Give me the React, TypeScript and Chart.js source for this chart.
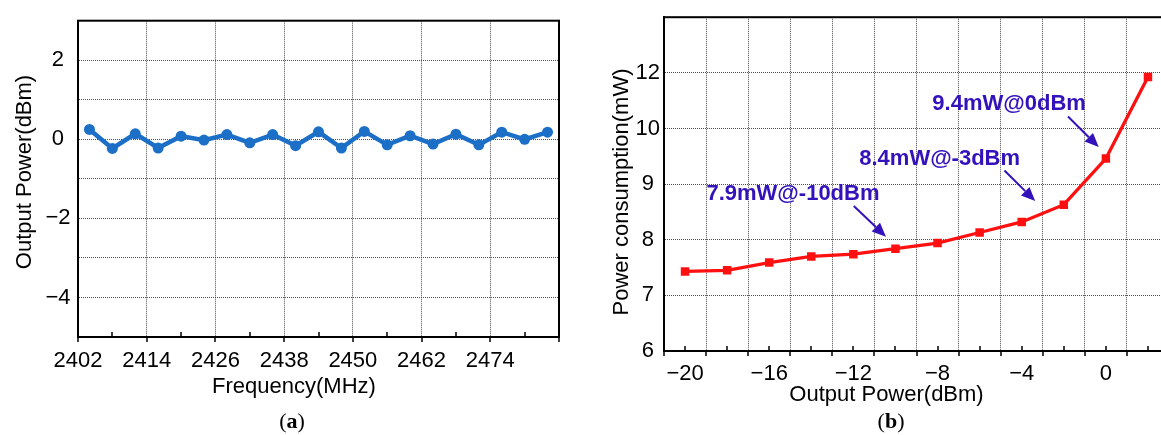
import React, { useEffect, useRef } from 'react';
import { Chart, registerables } from 'chart.js';

Chart.register(...registerables);

// ---------------- panel (a): output power vs frequency ----------------
const FREQ_MHZ = [2404, 2408, 2412, 2416, 2420, 2424, 2428, 2432, 2436, 2440, 2444, 2448, 2452, 2456, 2460, 2464, 2468, 2472, 2476, 2480, 2484];
const OUTPUT_POWER_DBM = [0.25, -0.23, 0.14, -0.22, 0.08, -0.02, 0.12, -0.09, 0.12, -0.16, 0.19, -0.22, 0.2, -0.14, 0.09, -0.12, 0.13, -0.14, 0.18, 0.0, 0.18];
const FREQ_TICK_LABELS = ['2402', '2414', '2426', '2438', '2450', '2462', '2474'];
const POWER_TICK_LABELS_A = ['2', '0', '\u22122', '\u22124'];

// ---------------- panel (b): power consumption vs output power ----------------
const OUT_POWER_B = [-20, -18, -16, -14, -12, -10, -8, -6, -4, -2, 0, 2];
const CONSUMPTION_MW = [7.43, 7.45, 7.59, 7.7, 7.74, 7.84, 7.94, 8.13, 8.32, 8.63, 9.46, 11.85];
const DBM_TICK_LABELS = ['\u221220', '\u221216', '\u221212', '\u22128', '\u22124', '0'];
const MW_TICK_LABELS = ['6', '7', '8', '9', '10', '12'];

const NOTE_TEXTS = ['9.4mW@0dBm', '8.4mW@-3dBm', '7.9mW@-10dBm'];
const NOTE_X = [-4.6, -7.9, -14.87];
const NOTE_Y = [10.94, 9.486, 8.853];
const ARROW_X0 = [-1.8, -4.82, -11.98];
const ARROW_Y0 = [10.43, 9.245, 8.607];
const ARROW_X1 = [-0.34, -3.36, -10.45];
const ARROW_Y1 = [9.666, 8.696, 8.054];

const FONT = "'Liberation Sans', Arial, Helvetica, sans-serif";
const GRID = 'rgba(70,70,70,0.95)';
const BLUE = '#1c6fc6';
const RED = '#ff1010';
const NOTE_COLOR = '#3311bb';

// y axis of (b) is compressed above 10 mW (10 -> 12 spans one grid cell)
const brk = (v: number) => (v <= 10 ? v : 10 + (v - 10) / 2);
const unbrk = (t: number) => (t <= 10 ? t : 10 + (t - 10) * 2);
const fmt = (v: number) => (v < 0 ? '\u2212' + Math.abs(v) : String(v));

const isMajorA = (v: number) => Math.abs(v - 2402) % 12 === 0;
const isMajorB = (v: number) => Math.abs(v) % 2 === 1;

function frameTicksPlugin(isMajor: (v: number) => boolean) {
  return {
    id: 'frameTicks',
    afterDraw(chart: any) {
      const { ctx, chartArea } = chart;
      const { top, bottom, left, right } = chartArea;
      const x = chart.scales.x;
      ctx.save();
      ctx.setLineDash([]);
      ctx.strokeStyle = '#000';
      ctx.lineWidth = 2;
      ctx.strokeRect(left, top, right - left, bottom - top);
      ctx.lineWidth = 1.5;
      ctx.beginPath();
      for (const t of x.ticks) {
        const px = Math.round(x.getPixelForValue(t.value));
        if (isMajor(t.value)) {
          ctx.moveTo(px, bottom);
          ctx.lineTo(px, bottom + 5);
        } else {
          ctx.moveTo(px, bottom);
          ctx.lineTo(px, bottom - 5);
        }
      }
      ctx.stroke();
      ctx.restore();
    },
  };
}

type TitleItem = { text: string; x: number; y: number; rot: number };
function titlesPlugin(items: TitleItem[]) {
  return {
    id: 'axisTitles',
    afterDraw(chart: any) {
      const ctx = chart.ctx;
      ctx.save();
      ctx.fillStyle = '#000';
      ctx.font = `22px ${FONT}`;
      ctx.textAlign = 'center';
      ctx.textBaseline = 'middle';
      for (const it of items) {
        ctx.save();
        ctx.translate(it.x, it.y);
        ctx.rotate(it.rot);
        ctx.fillText(it.text, 0, 0);
        ctx.restore();
      }
      ctx.restore();
    },
  };
}

const notesPlugin = {
  id: 'notes',
  afterDatasetsDraw(chart: any) {
    const { ctx } = chart;
    const xs = chart.scales.x;
    const ys = chart.scales.y;
    ctx.save();
    ctx.fillStyle = NOTE_COLOR;
    ctx.strokeStyle = NOTE_COLOR;
    ctx.font = `bold 22px ${FONT}`;
    ctx.textAlign = 'center';
    ctx.textBaseline = 'alphabetic';
    NOTE_TEXTS.forEach((txt, i) => {
      const tx = xs.getPixelForValue(NOTE_X[i]);
      const ty = ys.getPixelForValue(brk(NOTE_Y[i]));
      ctx.fillText(txt, tx, ty + 0.358 * 22);
      const x0 = xs.getPixelForValue(ARROW_X0[i]);
      const y0 = ys.getPixelForValue(brk(ARROW_Y0[i]));
      const x1 = xs.getPixelForValue(ARROW_X1[i]);
      const y1 = ys.getPixelForValue(brk(ARROW_Y1[i]));
      const ang = Math.atan2(y1 - y0, x1 - x0);
      const hl = 14;
      const hw = 6;
      const bx = x1 - hl * Math.cos(ang);
      const by = y1 - hl * Math.sin(ang);
      ctx.lineWidth = 2;
      ctx.beginPath();
      ctx.moveTo(x0, y0);
      ctx.lineTo(bx, by);
      ctx.stroke();
      ctx.beginPath();
      ctx.moveTo(x1, y1);
      ctx.lineTo(bx - hw * Math.sin(ang), by + hw * Math.cos(ang));
      ctx.lineTo(bx + hw * Math.sin(ang), by - hw * Math.cos(ang));
      ctx.closePath();
      ctx.fill();
    });
    ctx.restore();
  },
};

function ChartA() {
  const ref = useRef<HTMLCanvasElement>(null);
  useEffect(() => {
    const canvas = ref.current!;
    const H = 435;
    const chart = new Chart(canvas, {
      type: 'line',
      data: {
        datasets: [
          {
            data: FREQ_MHZ.map((f, i) => ({ x: f, y: OUTPUT_POWER_DBM[i] })),
            borderColor: BLUE,
            backgroundColor: BLUE,
            borderWidth: 4.5,
            pointRadius: 5.5,
            pointHoverRadius: 5.5,
            pointBorderWidth: 0,
            pointBackgroundColor: BLUE,
            tension: 0,
          },
        ],
      },
      options: {
        responsive: false,
        animation: false,
        events: [],
        layout: { padding: { top: 17, right: 21, left: 0, bottom: 0 } },
        plugins: { legend: { display: false }, tooltip: { enabled: false } },
        scales: {
          x: {
            type: 'linear',
            min: 2402,
            max: 2486,
            afterFit: (s: any) => {
              s.height = H - 337;
            },
            ticks: {
              stepSize: 6,
              autoSkip: false,
              maxRotation: 0,
              padding: 11,
              color: '#000',
              font: { family: FONT, size: 22 },
              callback: (v: any) => (FREQ_TICK_LABELS.includes(String(v)) ? String(v) : ''),
            },
            grid: {
              drawTicks: false,
              lineWidth: 1,
              color: (c: any) => (isMajorA(c.tick.value) ? GRID : 'rgba(0,0,0,0)'),
            },
            border: { display: true, color: '#000', width: 2, dash: [1, 1] },
          },
          y: {
            type: 'linear',
            min: -5,
            max: 3,
            afterFit: (s: any) => {
              s.width = 78;
            },
            ticks: {
              stepSize: 1,
              autoSkip: false,
              padding: 7.5,
              crossAlign: 'center',
              color: '#000',
              font: { family: FONT, size: 22 },
              callback: (v: any) => (POWER_TICK_LABELS_A.includes(fmt(v)) ? fmt(v) : ''),
            },
            grid: { drawTicks: false, lineWidth: 1, color: GRID },
            border: { display: true, color: '#000', width: 2, dash: [1, 1] },
          },
        },
      },
      plugins: [
        frameTicksPlugin(isMajorA),
        titlesPlugin([
          { text: 'Frequency(MHz)', x: 294, y: 387, rot: 0 },
          { text: 'Output Power(dBm)', x: 25, y: 172, rot: -Math.PI / 2 },
        ]),
      ],
    } as any);
    return () => chart.destroy();
  }, []);
  return (
    <canvas
      ref={ref}
      width={580}
      height={435}
      style={{ position: 'absolute', left: 0, top: 0, width: 580, height: 435, display: 'block' }}
    />
  );
}

function ChartB() {
  const ref = useRef<HTMLCanvasElement>(null);
  useEffect(() => {
    const canvas = ref.current!;
    const H = 435;
    const chart = new Chart(canvas, {
      type: 'line',
      data: {
        datasets: [
          {
            data: OUT_POWER_B.map((x, i) => ({ x, y: brk(CONSUMPTION_MW[i]) })),
            borderColor: RED,
            backgroundColor: RED,
            borderWidth: 3.3,
            pointStyle: 'rect',
            pointRadius: 6,
            pointHoverRadius: 6,
            pointBorderWidth: 0,
            pointBackgroundColor: RED,
            tension: 0,
          },
        ],
      },
      options: {
        responsive: false,
        animation: false,
        events: [],
        layout: { padding: { top: 13, right: 11, left: 0, bottom: 0 } },
        plugins: { legend: { display: false }, tooltip: { enabled: false } },
        scales: {
          x: {
            type: 'linear',
            min: -21,
            max: 3,
            afterFit: (s: any) => {
              s.height = H - 351;
            },
            ticks: {
              stepSize: 1,
              autoSkip: false,
              maxRotation: 0,
              padding: 10,
              color: '#000',
              font: { family: FONT, size: 22 },
              callback: (v: any) => (DBM_TICK_LABELS.includes(fmt(v)) ? fmt(v) : ''),
            },
            grid: {
              drawTicks: false,
              lineWidth: 1,
              color: (c: any) => (isMajorB(c.tick.value) ? GRID : 'rgba(0,0,0,0)'),
            },
            border: { display: true, color: '#000', width: 2, dash: [1, 1] },
          },
          y: {
            type: 'linear',
            min: 6,
            max: 12,
            afterFit: (s: any) => {
              s.width = 84;
            },
            ticks: {
              stepSize: 1,
              autoSkip: false,
              padding: 4,
              crossAlign: 'center',
              color: '#000',
              font: { family: FONT, size: 22 },
              callback: (v: any) => {
                const real = unbrk(Number(v));
                return MW_TICK_LABELS.includes(String(real)) ? String(real) : '';
              },
            },
            grid: { drawTicks: false, lineWidth: 1, color: GRID },
            border: { display: true, color: '#000', width: 2, dash: [1, 1] },
          },
        },
      },
      plugins: [
        frameTicksPlugin(isMajorB),
        notesPlugin,
        titlesPlugin([
          { text: 'Output Power(dBm)', x: 306.5, y: 394.5, rot: 0 },
          { text: 'Power consumption(mW)', x: 42, y: 192, rot: -Math.PI / 2 },
        ]),
      ],
    } as any);
    return () => chart.destroy();
  }, []);
  return (
    <canvas
      ref={ref}
      width={600}
      height={435}
      style={{ position: 'absolute', left: 580, top: 0, width: 600, height: 435, display: 'block' }}
    />
  );
}

const captionStyle: React.CSSProperties = {
  position: 'absolute',
  top: 421,
  transform: 'translate(-50%, -50%)',
  fontFamily: "'Liberation Serif', 'Times New Roman', serif",
  fontSize: 22,
  lineHeight: 1,
  color: '#000',
  whiteSpace: 'nowrap',
};

export default function App() {
  return (
    <div
      style={{
        position: 'absolute',
        left: 0,
        top: 0,
        width: 1161,
        height: 435,
        overflow: 'hidden',
        background: '#fff',
      }}
    >
      <ChartA />
      <ChartB />
      <div style={{ ...captionStyle, left: 292 }}>
        (<b>a</b>)
      </div>
      <div style={{ ...captionStyle, left: 891 }}>
        (<b>b</b>)
      </div>
    </div>
  );
}
